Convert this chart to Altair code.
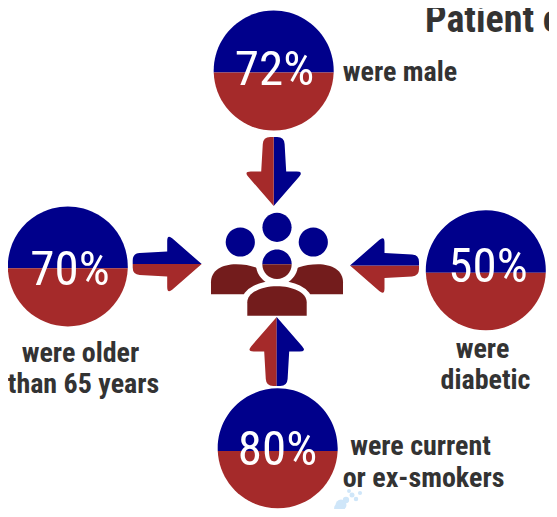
import math
import altair as alt, pandas as pd

# Page: 8px margin, so the drawable picture region runs 8..549 by 8..509
OX, OY = 8, 8
W, H = 541, 501
x_scale = alt.Scale(domain=[OX, OX + W], range=[0, W], nice=False, zero=False)
y_scale = alt.Scale(domain=[OY, OY + H], range=[0, H], nice=False, zero=False)
BLUE, RED, DARK, INK = "#00008b", "#a52a2a", "#731c1c", "#333333"
SPRAY = "#cfe6f9"

# Percent circles
circle_x = [273.7, 67.8, 485.8, 277.7]
circle_y = [70.5, 266.3, 270.2, 448.3]
circle_split = [2.0, 2.0, 2.5, 2.7]
pct_text = ["72%", "70%", "50%", "80%"]
pct_x = [274.5, 70, 488, 277.5]
pct_y = [70, 270, 266.5, 450]

# Captions
lab_t = ["were male", "were older", "than 65 years", "were", "diabetic", "were current", "or ex-smokers"]
lab_x = [400, 80.5, 83.5, 482.5, 485.5, 420.5, 423.5]
lab_y = [72.5, 353.5, 384.5, 349.5, 380.5, 446.5, 478.5]

# Arrows: tip position and pointing direction
arrow_x = [273.7, 201.7, 350, 276.7]
arrow_y = [206, 264, 265.5, 317]
arrow_dir = ["down", "right", "left", "up"]

# People icon
head_x = [277, 240.3, 313.3]
head_y = [227.3, 242, 242]
center_x, center_y = 277, 264.2

spray_x = [341, 346, 338, 352, 356, 360, 349]
spray_y = [505, 500, 508, 495, 499, 493, 491]
spray_s = [120, 40, 60, 25, 20, 18, 15]


def rounded(points):
    """points: (x, y, r); corners with r > 0 are rounded with a quadratic curve."""
    n = len(points)
    out = []
    for i, (x, y, r) in enumerate(points):
        if r <= 0:
            out.append(("M" if i == 0 else "L") + f"{x:.2f},{y:.2f}")
            continue
        px, py, _ = points[i - 1]
        qx, qy, _ = points[(i + 1) % n]
        d1, d2 = math.hypot(px - x, py - y), math.hypot(qx - x, qy - y)
        a = (x + (px - x) * r / d1, y + (py - y) * r / d1)
        b = (x + (qx - x) * r / d2, y + (qy - y) * r / d2)
        out.append(("M" if i == 0 else "L") + f"{a[0]:.2f},{a[1]:.2f}")
        out.append(f"Q{x:.2f},{y:.2f} {b[0]:.2f},{b[1]:.2f}")
    return " ".join(out) + " Z"


def half_arrow(direction, side):
    # canonical: tip at the origin, u runs back along the shaft, v sideways
    canon = [(0, 0, 0), (34.5, 30, 7), (34.5, 12.5, 0), (69, 10.5, 7), (69, 0, 0)]
    ux, uy = {"down": (0, -1), "up": (0, 1), "right": (-1, 0), "left": (1, 0)}[direction]
    vx, vy = (-uy, ux)
    pts = [(u * ux + side * v * vx, u * uy + side * v * vy, r) for u, v, r in canon]
    return rounded(pts)


def segment(r, d, upper):
    c = math.sqrt(r * r - d * d)
    if upper:
        return f"M{-c:.2f},{d} A{r},{r} 0 1 1 {c:.2f},{d} Z"
    return f"M{c:.2f},{d} A{r},{r} 0 0 1 {-c:.2f},{d} Z"


def side_body(m):
    return (f"M{m*-66},30 L{m*-66},18 C{m*-66},6 {m*-55},0 {m*-41},0 "
            f"C{m*-27},0 {m*-15},4 {m*-9},12 L{m*-9},30 Z")


FRONT_BODY = "M-29.7,29.5 L-29.7,16 C-29.7,6 -15,0 0,0 C15,0 29.7,6 29.7,16 L29.7,29.5 Z"

X = alt.X("x:Q", scale=x_scale, axis=None)
Y = alt.Y("y:Q", scale=y_scale, axis=None)


def shape_layer(xs, ys, path, color, stroke=None, sw=0):
    # size 4 makes one unit of the custom path equal one pixel
    df = pd.DataFrame({"x": xs, "y": ys})
    kw = dict(shape=path, filled=True, size=4, fill=color, opacity=1, strokeWidth=sw)
    kw["stroke"] = stroke if stroke else color
    return alt.Chart(df).mark_point(**kw).encode(x=X, y=Y)


layers = []
for x, y, d in zip(circle_x, circle_y, circle_split):
    layers.append(shape_layer([x], [y], segment(60, d, True), BLUE))
    layers.append(shape_layer([x], [y], segment(60, d, False), RED))

df_pct = pd.DataFrame({"x": pct_x, "y": pct_y, "t": pct_text})
layers.append(alt.Chart(df_pct).mark_text(font="Roboto Condensed", fontWeight=400, fontSize=49, color="white",
                                         baseline="middle").encode(x=X, y=Y, text="t:N"))

df_lab = pd.DataFrame({"x": lab_x, "y": lab_y, "t": lab_t})
layers.append(alt.Chart(df_lab).mark_text(font="Roboto Condensed", fontWeight="bold", fontSize=28, color=INK,
                                         baseline="middle").encode(x=X, y=Y, text="t:N"))

df_title = pd.DataFrame({"x": [425], "y": [32], "t": ["Patient o"]})
layers.append(alt.Chart(df_title).mark_text(font="Roboto Condensed", fontWeight="bold", fontSize=38, color=INK,
                                           align="left", baseline="alphabetic").encode(x=X, y=Y, text="t:N"))

# people icon
layers.append(shape_layer([center_x], [264.2], side_body(1), DARK))
layers.append(shape_layer([center_x], [264.2], side_body(-1), DARK))
layers.append(shape_layer([center_x], [center_y], "M-21,0 A21,21 0 1 1 21,0 A21,21 0 1 1 -21,0 Z", "white"))
layers.append(shape_layer([center_x], [286.2], FRONT_BODY, "white", "white", 11))
layers.append(shape_layer([center_x], [286.2], FRONT_BODY, DARK))
for x, y in zip(head_x, head_y):
    layers.append(shape_layer([x], [y], "M-14.6,0 A14.6,14.6 0 1 1 14.6,0 A14.6,14.6 0 1 1 -14.6,0 Z", BLUE))
layers.append(shape_layer([center_x], [center_y], segment(14.7, 0, True), BLUE))
layers.append(shape_layer([center_x], [center_y], segment(14.7, 0, False), DARK))

# arrows: side +1 / -1 fall on either side of the split line
arrow_sides = {
    "down": [(1, BLUE), (-1, RED)],
    "up": [(1, RED), (-1, BLUE)],
    "right": [(1, BLUE), (-1, RED)],
    "left": [(1, RED), (-1, BLUE)],
}
for x, y, d in zip(arrow_x, arrow_y, arrow_dir):
    for side, col in arrow_sides[d]:
        layers.append(shape_layer([x], [y], half_arrow(d, side), col))

df_spray = pd.DataFrame({"x": spray_x, "y": spray_y, "s": spray_s})
layers.append(alt.Chart(df_spray).mark_circle(color=SPRAY, opacity=1).encode(
    x=X, y=Y, size=alt.Size("s:Q", scale=None, legend=None)))

chart = alt.layer(*layers).properties(width=W, height=H, padding=0,
                                      autosize=alt.AutoSizeParams(type="none")).configure_view(stroke=None)
chart.save("out.html", embed_options={"renderer": "svg", "actions": False})
